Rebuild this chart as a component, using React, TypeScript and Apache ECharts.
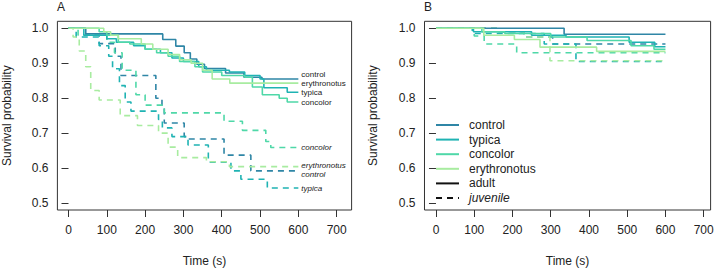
import React, { useEffect, useRef } from "react";
import * as echarts from "echarts";

// Kaplan–Meier step curves: [time (s), survival probability]
type Pt = [number, number];

const groups = ["control", "typica", "concolor", "erythronotus"];
const colors = ["#2f86a6", "#1fb3b3", "#4fd8a8", "#a8eca0"];

const xTicks = [0, 100, 200, 300, 400, 500, 600, 700];
const yTicks = [0.5, 0.6, 0.7, 0.8, 0.9, 1.0];

// Panel A — adults (solid)
const aControlAdult: Pt[] = [[0, 1], [45, 0.984], [246, 0.968], [280, 0.949], [302, 0.93], [318, 0.912], [335, 0.897], [355, 0.885], [410, 0.872], [458, 0.86], [505, 0.855], [600, 0.855]];
const aTypicaAdult: Pt[] = [[0, 1], [40, 0.98], [100, 0.97], [125, 0.96], [170, 0.95], [200, 0.94], [240, 0.93], [270, 0.915], [300, 0.905], [340, 0.89], [360, 0.88], [420, 0.875], [460, 0.865], [500, 0.855], [510, 0.83], [571, 0.817], [600, 0.817]];
const aConcolorAdult: Pt[] = [[0, 1], [80, 0.99], [100, 0.98], [130, 0.96], [160, 0.955], [200, 0.94], [230, 0.93], [260, 0.92], [290, 0.905], [330, 0.89], [350, 0.875], [400, 0.865], [460, 0.86], [480, 0.832], [506, 0.81], [550, 0.8], [571, 0.789], [600, 0.789]];
const aErythronotusAdult: Pt[] = [[0, 1], [92, 0.99], [110, 0.98], [130, 0.97], [190, 0.955], [220, 0.94], [260, 0.925], [290, 0.91], [320, 0.9], [350, 0.88], [375, 0.855], [421, 0.843], [600, 0.843]];

// Panel A — juveniles (dashed)
const aControlJuv: Pt[] = [[0, 1], [45, 0.98], [80, 0.956], [122, 0.92], [137, 0.865], [228, 0.8], [244, 0.777], [250, 0.729], [302, 0.69], [311, 0.683], [406, 0.637], [476, 0.592], [600, 0.592]];
const aTypicaJuv: Pt[] = [[0, 1], [20, 0.975], [80, 0.95], [105, 0.92], [115, 0.884], [133, 0.836], [148, 0.789], [163, 0.763], [235, 0.739], [245, 0.715], [270, 0.69], [312, 0.666], [365, 0.617], [424, 0.592], [450, 0.568], [519, 0.543], [600, 0.543]];
const aConcolorJuv: Pt[] = [[0, 1], [25, 0.98], [100, 0.96], [120, 0.93], [140, 0.88], [176, 0.81], [200, 0.78], [250, 0.758], [406, 0.734], [454, 0.708], [515, 0.676], [528, 0.659], [600, 0.659]];
const aErythronotusJuv: Pt[] = [[0, 1], [12, 0.975], [28, 0.935], [45, 0.89], [58, 0.822], [80, 0.795], [135, 0.75], [180, 0.722], [235, 0.7], [260, 0.66], [285, 0.63], [360, 0.618], [420, 0.604], [600, 0.604]];

// Panel B — adults (solid)
const bControlAdult: Pt[] = [[0, 1], [335, 0.983], [600, 0.983]];
const bTypicaAdult: Pt[] = [[0, 1], [98, 0.99], [250, 0.98], [340, 0.975], [505, 0.96], [572, 0.947], [600, 0.947]];
const bConcolorAdult: Pt[] = [[0, 1], [120, 0.99], [180, 0.985], [300, 0.975], [395, 0.965], [510, 0.95], [570, 0.94], [600, 0.94]];
const bErythronotusAdult: Pt[] = [[0, 1], [125, 0.98], [205, 0.968], [272, 0.946], [420, 0.934], [600, 0.934]];

// Panel B — juveniles (dashed)
const bControlJuv: Pt[] = [[0, 1], [160, 0.99], [230, 0.975], [305, 0.955], [600, 0.955]];
const bTypicaJuv: Pt[] = [[0, 1], [95, 0.985], [283, 0.955], [366, 0.905], [600, 0.905]];
const bConcolorJuv: Pt[] = [[0, 1], [100, 0.978], [126, 0.955], [211, 0.93], [600, 0.93]];
const bErythronotusJuv: Pt[] = [[0, 1], [160, 0.99], [230, 0.975], [298, 0.907], [600, 0.907]];

const adultA = [aControlAdult, aTypicaAdult, aConcolorAdult, aErythronotusAdult];
const juvA = [aControlJuv, aTypicaJuv, aConcolorJuv, aErythronotusJuv];
const adultB = [bControlAdult, bTypicaAdult, bConcolorAdult, bErythronotusAdult];
const juvB = [bControlJuv, bTypicaJuv, bConcolorJuv, bErythronotusJuv];

// vertical nudges for the end labels of panel A so they don't collide
const adultLabelNudge = [-4, 0.5, 0.5, 0.5];
const juvLabelNudge = [4, 1, 0, -1.5];

const FONT = "Liberation Sans, Arial, Helvetica, sans-serif";
const AXIS_COLOR = "#333";

function makeAxes(gridIndex: number, xmin: number, xmax: number, yNameGap: number) {
  const xAxis = {
    type: "value",
    gridIndex,
    min: xmin,
    max: xmax,
    name: "Time (s)",
    nameLocation: "middle",
    nameGap: 45,
    nameTextStyle: { fontSize: 12, color: "#222", fontFamily: FONT },
    axisLine: { show: false },
    axisTick: { show: true, length: 7, lineStyle: { color: AXIS_COLOR }, customValues: xTicks },
    axisLabel: { fontSize: 12, color: "#222", fontFamily: FONT, margin: 14, customValues: xTicks },
    splitLine: { show: false },
  };
  const yAxis = {
    type: "value",
    gridIndex,
    min: 0.48,
    max: 1.02,
    name: "Survival probability",
    nameLocation: "middle",
    nameGap: yNameGap,
    nameTextStyle: { fontSize: 12, color: "#222", fontFamily: FONT },
    axisLine: { show: false },
    axisTick: { show: true, length: 7, lineStyle: { color: AXIS_COLOR }, customValues: yTicks },
    axisLabel: {
      fontSize: 12,
      color: "#222",
      fontFamily: FONT,
      margin: 9,
      customValues: yTicks,
      formatter: (v: number) => v.toFixed(1),
    },
    splitLine: { show: false },
  };
  return { xAxis, yAxis };
}

function curve(data: Pt[], i: number, juvenile: boolean, panel: number, label: boolean) {
  const s: any = {
    type: "line",
    name: groups[i],
    xAxisIndex: panel,
    yAxisIndex: panel,
    data,
    step: "end",
    showSymbol: false,
    symbol: "none",
    silent: true,
    lineStyle: {
      color: colors[i],
      width: 1.6,
      type: juvenile ? [6, 5] : "solid",
    },
    z: juvenile ? 2 : 3,
  };
  if (label) {
    s.endLabel = {
      show: true,
      formatter: groups[i],
      distance: 3,
      offset: [0, juvenile ? juvLabelNudge[i] : adultLabelNudge[i]],
      fontSize: 8,
      fontFamily: FONT,
      fontStyle: juvenile ? "italic" : "normal",
      color: "#222",
    };
  }
  return s;
}

const legendRows = [...groups, "adult", "juvenile"];

export default function App() {
  const ref = useRef<HTMLDivElement>(null);

  useEffect(() => {
    if (!ref.current) return;
    const chart = echarts.init(ref.current, null, { renderer: "svg" });

    const a = makeAxes(0, -29, 739, 44);
    const b = makeAxes(1, -30, 718, 46);

    const series: any[] = [];
    juvA.forEach((d, i) => series.push(curve(d, i, true, 0, true)));
    adultA.forEach((d, i) => series.push(curve(d, i, false, 0, true)));
    juvB.forEach((d, i) => series.push(curve(d, i, true, 1, false)));
    adultB.forEach((d, i) => series.push(curve(d, i, false, 1, false)));

    const legendGraphics: any[] = [];
    legendRows.forEach((name, r) => {
      const y = 125 + r * 14.6;
      const isGroup = r < groups.length;
      legendGraphics.push({
        type: "line",
        shape: { x1: 436, y1: y, x2: 459, y2: y },
        style: {
          stroke: isGroup ? colors[r] : "#111",
          lineWidth: 2,
          lineDash: name === "juvenile" ? [6, 5] : null,
        },
      });
      legendGraphics.push({
        type: "text",
        x: 469,
        y,
        style: {
          text: name,
          fontSize: 12,
          fontFamily: FONT,
          fontStyle: name === "juvenile" ? "italic" : "normal",
          fill: "#222",
          verticalAlign: "middle",
          align: "left",
        },
      });
    });

    chart.setOption({
      animation: false,
      backgroundColor: "#ffffff",
      grid: [
        { left: 57.4, top: 21.3, width: 294.2, height: 190, show: true, borderColor: AXIS_COLOR, borderWidth: 1, backgroundColor: "transparent" },
        { left: 424.5, top: 21.3, width: 286.1, height: 190, show: true, borderColor: AXIS_COLOR, borderWidth: 1, backgroundColor: "transparent" },
      ],
      xAxis: [a.xAxis, b.xAxis],
      yAxis: [a.yAxis, b.yAxis],
      series,
      graphic: [
        { type: "text", x: 57, y: 7, style: { text: "A", fontSize: 12, fontFamily: FONT, fill: "#222", verticalAlign: "middle" } },
        { type: "text", x: 424, y: 7, style: { text: "B", fontSize: 12, fontFamily: FONT, fill: "#222", verticalAlign: "middle" } },
        ...legendGraphics,
      ],
    });

    return () => chart.dispose();
  }, []);

  return <div ref={ref} style={{ width: 722, height: 272, position: "absolute", left: 0, top: 0 }} />;
}
